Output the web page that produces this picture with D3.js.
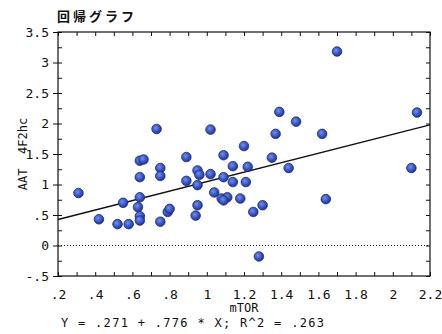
<!DOCTYPE html>
<html>
<head>
<meta charset="utf-8">
<script src="https://cdn.jsdelivr.net/npm/d3@7/dist/d3.min.js"></script>
<style>
  html, body { margin: 0; padding: 0; background: #fff; }
  svg { display: block; }
  .tick text { font-family: "DejaVu Sans Mono", monospace; font-size: 13px; fill: #111; }
  .tick line { stroke: #111; }
</style>
</head>
<body>
<svg id="chart" width="442" height="334"></svg>
<script>
// mTOR (x) vs AAT 4F2hc (y) observations
const mtor = [0.31, 0.42, 0.52, 0.58, 0.55, 0.63, 0.64, 0.64, 0.64, 0.64, 0.64, 0.66,
  0.73, 0.75, 0.75, 0.75, 0.79, 0.80, 0.89, 0.89, 0.94, 0.95, 0.95, 0.95, 0.96,
  1.02, 1.02, 1.04, 1.09, 1.09, 1.08, 1.11, 1.09, 1.14, 1.14, 1.18, 1.20, 1.21,
  1.22, 1.25, 1.30, 1.28, 1.35, 1.37, 1.39, 1.44, 1.48, 1.62, 1.64, 1.70, 2.10, 2.13];
const aat = [0.86, 0.43, 0.35, 0.35, 0.70, 0.63, 0.79, 0.48, 0.41, 1.12, 1.39, 1.41,
  1.91, 1.27, 1.14, 0.39, 0.55, 0.60, 1.06, 1.45, 0.49, 0.66, 0.99, 1.23, 1.16,
  1.90, 1.17, 0.87, 1.48, 1.12, 0.77, 0.79, 0.74, 1.30, 1.04, 0.77, 1.63, 1.04,
  1.29, 0.55, 0.66, -0.18, 1.44, 1.83, 2.19, 1.27, 2.03, 1.83, 0.76, 3.18, 1.27, 2.18];

// Fitted line Y = a + b * X
const intercept = 0.271;
const slope = 0.776;
const rSquared = 0.263;

const xTicks = [0.2, 0.4, 0.6, 0.8, 1.0, 1.2, 1.4, 1.6, 1.8, 2.0, 2.2];
const xTickLabels = [".2", ".4", ".6", ".8", "1", "1.2", "1.4", "1.6", "1.8", "2", "2.2"];
const yTicks = [3.5, 3, 2.5, 2, 1.5, 1, 0.5, 0, -0.5];
const yTickLabels = ["3.5", "3", "2.5", "2", "1.5", "1", ".5", "0", "-.5"];

const titleText = "回帰グラフ";
const xTitle = "mTOR";
const yTitle = "AAT  4F2hc";

const W = 442, H = 334;
const margin = { top: 32, right: 12, bottom: 58, left: 58 };
const iw = W - margin.left - margin.right;
const ih = H - margin.top - margin.bottom;

const svg = d3.select("#chart");

const x = d3.scaleLinear().domain([0.2, 2.2]).range([0, iw]);
const y = d3.scaleLinear().domain([-0.5, 3.5]).range([ih, 0]);

const minorX = d3.range(0.2, 2.2001, 0.1);
const minorY = d3.range(-0.5, 3.5001, 0.25);

const defs = svg.append("defs");
const grad = defs.append("radialGradient").attr("id", "ball")
  .attr("cx", "40%").attr("cy", "38%").attr("r", "65%");
grad.append("stop").attr("offset", "0%").attr("stop-color", "#7390e8");
grad.append("stop").attr("offset", "55%").attr("stop-color", "#3a58c8");
grad.append("stop").attr("offset", "100%").attr("stop-color", "#22308c");

// Title
svg.append("text")
  .attr("x", 57).attr("y", 21)
  .attr("font-family", "'Noto Sans CJK JP', sans-serif")
  .attr("font-weight", "bold")
  .attr("font-size", 13)
  .attr("letter-spacing", 3)
  .attr("fill", "#111")
  .text(titleText);

const g = svg.append("g").attr("transform", `translate(${margin.left},${margin.top})`);

// Zero reference line
g.append("line")
  .attr("x1", 0).attr("x2", iw)
  .attr("y1", y(0)).attr("y2", y(0))
  .attr("stroke", "#222").attr("stroke-width", 1)
  .attr("stroke-dasharray", "1,2");

// Left axis: labelled outward ticks plus inward minor ticks
g.append("g")
  .call(d3.axisLeft(y).tickValues(yTicks).tickSize(5).tickPadding(4)
    .tickFormat((d, i) => yTickLabels[i]));
g.append("g")
  .call(d3.axisRight(y).tickValues(minorY).tickSize(4).tickFormat(""));

// Bottom axis: inward ticks, labels below
g.append("g").attr("transform", `translate(0,${ih})`)
  .call(d3.axisTop(x).tickValues(minorX).tickSize(4).tickFormat(""));
g.append("g").attr("transform", `translate(0,${ih})`)
  .call(d3.axisBottom(x).tickValues(xTicks).tickSize(0).tickPadding(14)
    .tickFormat((d, i) => xTickLabels[i]));

// Top and right axes: inward ticks only
g.append("g")
  .call(d3.axisBottom(x).tickValues(minorX).tickSize(4).tickFormat(""));
g.append("g").attr("transform", `translate(${iw},0)`)
  .call(d3.axisLeft(y).tickValues(minorY).tickSize(4).tickFormat(""));

g.selectAll(".domain").remove();

// Plot frame
g.append("rect")
  .attr("x", 0).attr("y", 0).attr("width", iw).attr("height", ih)
  .attr("fill", "none").attr("stroke", "#111").attr("stroke-width", 1.2);

// Regression line
const fit = d => intercept + slope * d;
g.append("line")
  .attr("x1", x(0.2)).attr("y1", y(fit(0.2)))
  .attr("x2", x(2.2)).attr("y2", y(fit(2.2)))
  .attr("stroke", "#111").attr("stroke-width", 1.3);

// Points
g.append("g").selectAll("circle")
  .data(mtor.map((d, i) => [d, aat[i]]))
  .join("circle")
  .attr("cx", d => x(d[0]))
  .attr("cy", d => y(d[1]))
  .attr("r", 4.8)
  .attr("fill", "url(#ball)")
  .attr("stroke", "#1e2a7e")
  .attr("stroke-width", 0.8);

// Axis titles
svg.append("text")
  .attr("x", margin.left + iw / 2).attr("y", 312)
  .attr("text-anchor", "middle")
  .attr("font-family", "'DejaVu Sans Mono', monospace")
  .attr("font-size", 12)
  .attr("fill", "#111")
  .text(xTitle);

svg.append("text")
  .attr("transform", `translate(27,${margin.top + ih / 2}) rotate(-90)`)
  .attr("text-anchor", "middle")
  .attr("font-family", "'DejaVu Sans Mono', monospace")
  .attr("font-size", 12)
  .style("white-space", "pre")
  .attr("fill", "#111")
  .text(yTitle);

// Regression equation
const fmt = v => d3.format(".3f")(v).replace(/^0/, "");
svg.append("text")
  .attr("x", 61).attr("y", 327)
  .attr("font-family", "'DejaVu Sans Mono', monospace")
  .attr("font-size", 12)
  .attr("letter-spacing", 1.3)
  .style("white-space", "pre")
  .attr("fill", "#111")
  .text(`Y = ${fmt(intercept)} + ${fmt(slope)} * X; R^2 = ${fmt(rSquared)}`);
</script>
</body>
</html>
